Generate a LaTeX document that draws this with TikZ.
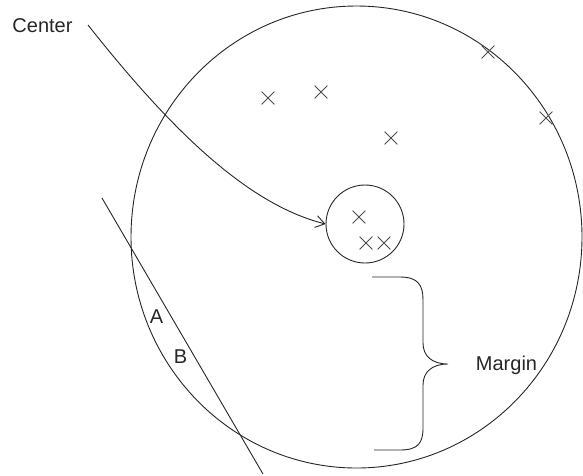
\documentclass[tikz,border=0pt]{standalone}
\usepackage{fontspec}
\setmainfont{Liberation Sans}
\usetikzlibrary{shapes.geometric,shapes.misc,arrows.meta}
\begin{document}
\begin{tikzpicture}[x=1pt,y=-1pt,
  line/.style={line width=0.9pt, draw=black!85},
  xmark/.style={cross out, draw=black!70, line width=0.8pt, minimum size=12pt, inner sep=0pt},
  lbl/.style={font=\fontsize{20}{24}\selectfont, text=black!85, inner sep=0pt, anchor=base}]
\useasboundingbox (0,0) rectangle (583,475);
% circles
\node[line, ellipse, minimum width=451pt, minimum height=462pt, inner sep=0pt] (big) at (356.5,237) {};
\node[line, circle, minimum size=78pt, inner sep=0pt] (small) at (365,224) {};
% crosses
\node[xmark] (x1) at (268,98) {};
\node[xmark] (x2) at (321,92) {};
\node[xmark] (x3) at (391,138) {};
\node[xmark] (x4) at (488,52) {};
\node[xmark] (x5) at (546,118) {};
\node[xmark] (x6) at (359,217) {};
\node[xmark] (x7) at (366,243) {};
\node[xmark] (x8) at (384,243) {};
% labels
\node[lbl] (center) at (42.5,32) {Center};
\node[lbl] (margin) at (506.5,370) {Margin};
\node[lbl] (A) at (156.5,323) {A};
\node[lbl] (B) at (180.5,363) {B};
% arrow from Center to small circle
\coordinate (cstart) at (88,25);
\draw[line, -{Straight Barb[length=9pt,width=12pt]}] (cstart) .. controls (175,135) and (250,205) .. (small.west);
% secant line
\coordinate (l1) at (102,198);
\coordinate (l2) at (263,474);
\draw[line] (l1) -- (l2);
% brace
\coordinate (btop) at (372,277);
\coordinate (btip) at (448,364);
\coordinate (bbot) at (374,450);
\draw[line] (btop) -- (400,277) .. controls (418,277) and (423,285) .. (423,300)
  -- (423,343) .. controls (423,356) and (432,364) .. (btip)
  .. controls (432,364) and (423,372) .. (423,385)
  -- (423,428) .. controls (423,443) and (418,450) .. (400,450) -- (bbot);
\end{tikzpicture}
\end{document}
